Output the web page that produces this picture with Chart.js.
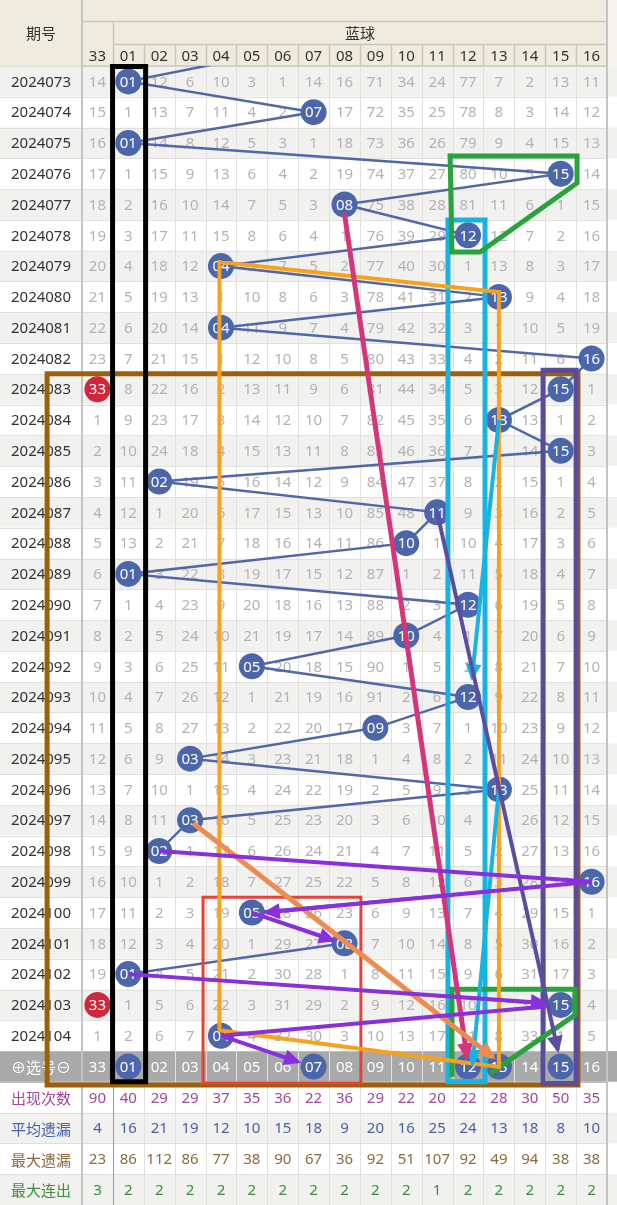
<!DOCTYPE html>
<html><head><meta charset="utf-8">
<script src="https://cdn.jsdelivr.net/npm/chart.js@4/dist/chart.umd.min.js"></script>
<style>html,body{margin:0;padding:0;background:#fff;overflow:hidden}#wrap{width:617px;height:1205px}</style>
</head><body><div id="wrap"><canvas id="c" width="617" height="1205"></canvas></div>
<script>
// ---------------- data ----------------
const columns = ['33','01','02','03','04','05','06','07','08','09','10','11','12','13','14','15','16'];
const periods = ['2024073','2024074','2024075','2024076','2024077','2024078','2024079','2024080','2024081','2024082',
  '2024083','2024084','2024085','2024086','2024087','2024088','2024089','2024090','2024091','2024092',
  '2024093','2024094','2024095','2024096','2024097','2024098','2024099','2024100','2024101','2024102','2024103','2024104'];
// winning blue ball column per period (column index into `columns`)
const blueDraw = [1,7,1,15,8,12,4,13,4,16,15,13,15,2,11,10,1,12,10,5,12,9,3,13,3,2,16,5,8,1,15,4];
const prevBlue = 6; // draw of the period before 2024073 (scrolled off)
const redHitPeriods = ['2024083','2024103'];
// omission table (0 = hit in that period)
const omission = [
 [14,0,12,6,10,3,1,14,16,71,34,24,77,7,2,13,11],
 [15,1,13,7,11,4,2,0,17,72,35,25,78,8,3,14,12],
 [16,0,14,8,12,5,3,1,18,73,36,26,79,9,4,15,13],
 [17,1,15,9,13,6,4,2,19,74,37,27,80,10,5,0,14],
 [18,2,16,10,14,7,5,3,0,75,38,28,81,11,6,1,15],
 [19,3,17,11,15,8,6,4,1,76,39,29,0,12,7,2,16],
 [20,4,18,12,0,9,7,5,2,77,40,30,1,13,8,3,17],
 [21,5,19,13,1,10,8,6,3,78,41,31,2,0,9,4,18],
 [22,6,20,14,0,11,9,7,4,79,42,32,3,1,10,5,19],
 [23,7,21,15,1,12,10,8,5,80,43,33,4,2,11,6,0],
 [0,8,22,16,2,13,11,9,6,81,44,34,5,3,12,0,1],
 [1,9,23,17,3,14,12,10,7,82,45,35,6,0,13,1,2],
 [2,10,24,18,4,15,13,11,8,83,46,36,7,1,14,0,3],
 [3,11,0,19,5,16,14,12,9,84,47,37,8,2,15,1,4],
 [4,12,1,20,6,17,15,13,10,85,48,0,9,3,16,2,5],
 [5,13,2,21,7,18,16,14,11,86,0,1,10,4,17,3,6],
 [6,0,3,22,8,19,17,15,12,87,1,2,11,5,18,4,7],
 [7,1,4,23,9,20,18,16,13,88,2,3,0,6,19,5,8],
 [8,2,5,24,10,21,19,17,14,89,0,4,1,7,20,6,9],
 [9,3,6,25,11,0,20,18,15,90,1,5,2,8,21,7,10],
 [10,4,7,26,12,1,21,19,16,91,2,6,0,9,22,8,11],
 [11,5,8,27,13,2,22,20,17,0,3,7,1,10,23,9,12],
 [12,6,9,0,14,3,23,21,18,1,4,8,2,11,24,10,13],
 [13,7,10,1,15,4,24,22,19,2,5,9,3,0,25,11,14],
 [14,8,11,0,16,5,25,23,20,3,6,10,4,1,26,12,15],
 [15,9,0,1,17,6,26,24,21,4,7,11,5,2,27,13,16],
 [16,10,1,2,18,7,27,25,22,5,8,12,6,3,28,14,0],
 [17,11,2,3,19,0,28,26,23,6,9,13,7,4,29,15,1],
 [18,12,3,4,20,1,29,27,0,7,10,14,8,5,30,16,2],
 [19,0,4,5,21,2,30,28,1,8,11,15,9,6,31,17,3],
 [0,1,5,6,22,3,31,29,2,9,12,16,10,7,32,0,4],
 [1,2,6,7,0,4,32,30,3,10,13,17,11,8,33,1,5]
];
const selectLabel = '⊕选号⊖';
const selectedCols = [1,7,12,13,15];
const statLabels = ['出现次数','平均遗漏','最大遗漏','最大连出'];
const appearCount = [90,40,29,29,37,35,36,22,36,29,22,20,22,28,30,50,35];
const avgMiss     = [4,16,21,19,12,10,15,18,9,20,16,25,24,13,18,8,10];
const maxMiss     = [23,86,112,86,77,38,90,67,36,92,51,107,92,49,94,38,38];
const maxStreak   = [3,2,2,2,2,2,2,2,2,2,2,1,2,2,2,2,2];

// hand-drawn annotations, in (column, row) units
const blackBox   = [[0.49,-0.48],[1.56,-0.48],[1.56,32.5],[0.49,32.5],[0.49,-0.48]];
const brownBox   = [[-1.63,9.5],[15.56,9.5],[15.56,32.6],[-1.63,32.6],[-1.63,9.5]];
const indigoBox  = [[14.43,9.38],[15.5,9.38],[15.5,32.55],[14.43,32.55],[14.43,9.38]];
const cyanBox    = [[11.35,4.5],[12.55,4.5],[12.55,32.5],[11.35,32.5],[11.35,4.5]];
const greenTop   = [[11.42,2.42],[15.53,2.42],[15.53,3.3],[12.39,5.54],[11.48,5.54],[11.42,2.42]];
const greenBottom= [[11.48,32.25],[11.48,29.49],[15.46,29.49],[15.46,30.33],[12.78,32.18]];
const orangePoly = [[3.95,5.87],[13.0,6.84],[13.0,32.02],[3.95,30.82],[3.95,5.87]];
const redBox     = [[3.42,26.5],[8.53,26.5],[8.53,32.54],[3.42,32.54],[3.42,26.5]];
const pinkArrow  = [[8,4.3],[11.97,31.7]];
const salmonArrow= [[3.1,24.1],[12.81,31.7]];
const indigoArrow= [[11,14],[14.91,31.47]];
const cyanArrow1 = [[13,11],[12.13,19.38]];
const cyanArrow2 = [[13,23],[12.15,31.9]];
const violet1 = [[2,25],[16,26]];
const violet2 = [[16,26],[5.45,27]];
const violet3 = [[5,27],[7.63,27.9]];
const violet4 = [[1,29],[14.49,29.94]];
const violet5 = [[4,31],[14.5,30.05]];
const violet6 = [[4,31],[6.5,31.85]];

// ---------------- chart ----------------
const FONT = '"Noto Sans", "Noto Sans CJK SC", sans-serif';
const CJK = '"Noto Sans CJK SC", "Noto Sans", sans-serif';
const selRow = periods.length;           // row index of the selection row
const statRows = [appearCount, avgMiss, maxMiss, maxStreak];
const statColors = ['#a2479c','#4a5ea6','#8b6a3e','#3c8f3c'];
const totalRows = periods.length + 1 + statRows.length;

const toPts = arr => arr.map(p => ({x:p[0], y:p[1]}));
function annot(pts, color, width, arrow, order){
  return {data: toPts(pts), showLine:true, borderColor:color, backgroundColor:color, borderWidth:width,
    pointRadius:0, pointHoverRadius:0, clip:false, borderJoinStyle:'miter',
    borderCapStyle: pts.length===2 ? 'butt' : 'square', arrow:!!arrow, order:order};
}

const gridPlugin = {
  id:'grid',
  beforeDatasetsDraw(chart){
    const {ctx, chartArea:a, scales:{x,y}} = chart;
    const W = chart.width;
    const xL = v => x.getPixelForValue(v - 0.5);
    const yT = v => y.getPixelForValue(v - 0.5);
    const labelX = a.left / 2;
    ctx.save();
    ctx.fillStyle = '#ffffff'; ctx.fillRect(0,0,W,chart.height);
    // header
    ctx.fillStyle = '#efebde'; ctx.fillRect(0,0,a.right,a.top);
    ctx.fillStyle = '#f6f4ee'; ctx.fillRect(a.right,0,W-a.right,a.top);
    // rows
    for (let r=0;r<totalRows;r++){
      let fill = r%2===0 ? '#f1f1ef' : '#ffffff';
      if (r===selRow) fill = '#a9a9a9';
      ctx.fillStyle = fill;
      ctx.fillRect(0, yT(r), W, yT(r+1)-yT(r));
    }
    // grid lines
    ctx.lineWidth = 1;
    for (let r=0;r<=totalRows;r++){
      ctx.strokeStyle = (r===selRow||r===selRow+1) ? '#bcbcbc' : '#e0e0de';
      const yy = Math.round(yT(r))+0.5;
      ctx.beginPath(); ctx.moveTo(0,yy); ctx.lineTo(a.right,yy); ctx.stroke();
    }
    for (let c=0;c<=columns.length;c++){
      const xx = Math.round(xL(c))+0.5;
      ctx.strokeStyle = '#e0e0de';
      ctx.beginPath(); ctx.moveTo(xx,a.top); ctx.lineTo(xx,a.bottom); ctx.stroke();
    }
    // darker separators
    ctx.strokeStyle = '#999'; ctx.lineWidth = 1;
    let xs = Math.round(xL(1))+0.5;
    ctx.beginPath(); ctx.moveTo(xs,yT(selRow+1)); ctx.lineTo(xs,a.bottom); ctx.stroke();
    ctx.strokeStyle = '#c4c4c4'; ctx.lineWidth = 2;
    ctx.beginPath(); ctx.moveTo(a.left,0); ctx.lineTo(a.left,a.bottom); ctx.stroke();
    ctx.beginPath(); ctx.moveTo(a.right,0); ctx.lineTo(a.right,a.bottom); ctx.stroke();
    // header lines
    ctx.strokeStyle = '#cdc7b6'; ctx.lineWidth = 1.5;
    ctx.beginPath(); ctx.moveTo(a.left,21.5); ctx.lineTo(a.right,21.5); ctx.stroke();
    ctx.beginPath(); ctx.moveTo(xL(1),44.5); ctx.lineTo(a.right,44.5); ctx.stroke();
    ctx.beginPath(); ctx.moveTo(a.left,a.top); ctx.lineTo(a.right,a.top); ctx.stroke();
    ctx.beginPath(); ctx.moveTo(Math.round(xL(1))+0.5,21.5); ctx.lineTo(Math.round(xL(1))+0.5,a.top); ctx.stroke();
    for (let c=2;c<columns.length;c++){
      const xx = Math.round(xL(c))+0.5;
      ctx.beginPath(); ctx.moveTo(xx,44.5); ctx.lineTo(xx,a.top); ctx.stroke();
    }
    // header text
    ctx.textAlign='center'; ctx.textBaseline='middle';
    ctx.fillStyle='#333';
    ctx.font = '15px '+CJK;
    ctx.fillText('期号', labelX, 33);
    ctx.fillText('蓝球', (xL(1)+a.right)/2, 33);
    ctx.font = '15px '+FONT;
    columns.forEach((c,i)=>ctx.fillText(c, x.getPixelForValue(i), 57));
    // period labels and omission numbers
    periods.forEach((p,r)=>{
      const yy = y.getPixelForValue(r)+1;
      ctx.fillStyle='#333'; ctx.font='15px '+FONT;
      ctx.fillText(p, labelX, yy);
      ctx.fillStyle='#b3b3b3';
      omission[r].forEach((v,c)=>{ if (v>0) ctx.fillText(String(v), x.getPixelForValue(c), yy); });
    });
    // selection row
    const ys = y.getPixelForValue(selRow)+1;
    ctx.fillStyle='#fff'; ctx.font='15px '+CJK;
    ctx.fillText(selectLabel, labelX, ys);
    ctx.font='15px '+FONT;
    columns.forEach((c,i)=>{ if (!selectedCols.includes(i)) ctx.fillText(c, x.getPixelForValue(i), ys); });
    // stats
    statRows.forEach((row,k)=>{
      const yy = y.getPixelForValue(selRow+1+k)+1;
      ctx.fillStyle = statColors[k];
      ctx.font='15px '+CJK; ctx.fillText(statLabels[k], labelX, yy);
      ctx.font='15px '+FONT;
      row.forEach((v,c)=>ctx.fillText(String(v), x.getPixelForValue(c), yy));
    });
    ctx.restore();
  },
  afterDatasetDraw(chart,args){
    const ds = chart.data.datasets[args.index];
    const {ctx, scales:{x,y}} = chart;
    if (ds.ballText){
      ctx.save();
      ctx.fillStyle='#fff'; ctx.font='15px '+FONT; ctx.textAlign='center'; ctx.textBaseline='middle';
      ds.data.forEach(p=>ctx.fillText(columns[p.x], x.getPixelForValue(p.x), y.getPixelForValue(p.y)+1));
      ctx.restore();
    }
    if (ds.arrow){
      const n = ds.data.length, A = ds.data[n-2], B = ds.data[n-1];
      const ax=x.getPixelForValue(A.x), ay=y.getPixelForValue(A.y);
      const bx=x.getPixelForValue(B.x), by=y.getPixelForValue(B.y);
      const ang=Math.atan2(by-ay,bx-ax), L=17, H=8;
      const tx=bx+3*Math.cos(ang), ty=by+3*Math.sin(ang);
      ctx.save(); ctx.fillStyle=ds.borderColor; ctx.beginPath();
      ctx.moveTo(tx,ty);
      ctx.lineTo(tx-L*Math.cos(ang)+H*Math.sin(ang), ty-L*Math.sin(ang)-H*Math.cos(ang));
      ctx.lineTo(tx-L*Math.cos(ang)-H*Math.sin(ang), ty-L*Math.sin(ang)+H*Math.cos(ang));
      ctx.closePath(); ctx.fill(); ctx.restore();
    }
  }
};

const connector = [{x:prevBlue, y:-1}].concat(blueDraw.map((c,r)=>({x:c, y:r})));
const blueBalls = blueDraw.map((c,r)=>({x:c, y:r})).concat(selectedCols.map(c=>({x:c, y:selRow})));
const redBalls = redHitPeriods.map(p=>({x:0, y:periods.indexOf(p)}));

const datasets = [
  {data:connector, showLine:true, borderColor:'#5068aa', borderWidth:2.5, pointRadius:0, pointHoverRadius:0, clip:0, order:100},
  {data:blueBalls, pointRadius:13, pointHoverRadius:13, backgroundColor:'#4b66aa', borderWidth:0, clip:false, ballText:true, order:90},
  {data:redBalls, pointRadius:13, pointHoverRadius:13, backgroundColor:'#d3263a', borderWidth:0, clip:false, ballText:true, order:89},
  annot(brownBox,'#9e5f0b',5,false,60),
  annot(redBox,'#e8413a',3,false,59),
  annot(indigoBox,'#5a4c9c',5,false,58),
  annot(cyanBox,'#17b3e3',5,false,57),
  annot(greenTop,'#29a33b',5,false,56),
  annot(greenBottom,'#29a33b',5,false,55),
  annot(blackBox,'#000000',5,false,54),
  annot(orangePoly,'#f8a11c',4,false,53),
  annot(cyanArrow1,'#17b3e3',4,true,52),
  annot(cyanArrow2,'#17b3e3',4,true,51),
  annot(pinkArrow,'#d5357a',5,true,50),
  annot(salmonArrow,'#ee8b4e',5,true,49),
  annot(indigoArrow,'#5b4ea0',4,true,48),
  annot(violet1,'#8a2fdc',4,false,47),
  annot(violet2,'#8a2fdc',4,true,46),
  annot(violet3,'#8a2fdc',4,true,45),
  annot(violet4,'#8a2fdc',4,true,44),
  annot(violet5,'#8a2fdc',4,false,43),
  annot(violet6,'#8a2fdc',4,true,42)
];

new Chart(document.getElementById('c'), {
  type:'scatter',
  data:{datasets},
  options:{
    responsive:false, animation:false, devicePixelRatio:1, events:[],
    layout:{autoPadding:false, padding:{left:82, right:10, top:66, bottom:0}},
    scales:{
      x:{type:'linear', min:-0.5, max:columns.length-0.5, display:false},
      y:{type:'linear', min:-0.5, max:totalRows-0.5, reverse:true, display:false}
    },
    plugins:{legend:{display:false}, tooltip:{enabled:false}}
  },
  plugins:[gridPlugin]
});
</script></body></html>
